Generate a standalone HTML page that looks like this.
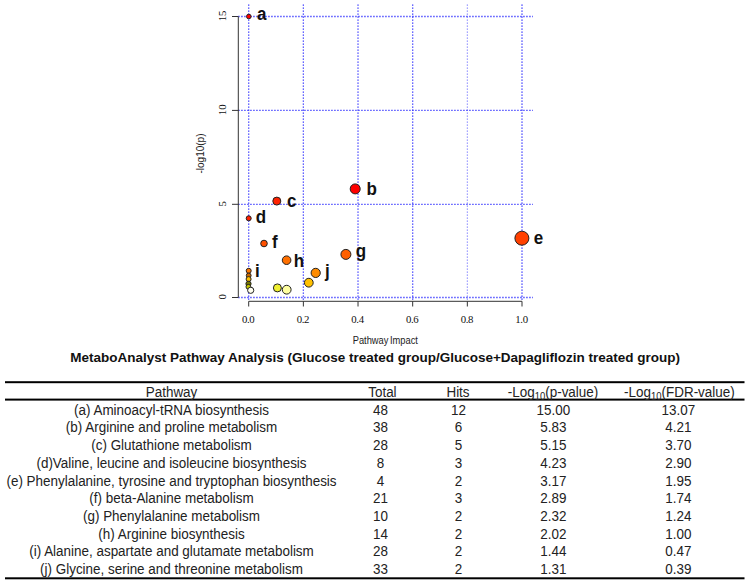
<!DOCTYPE html>
<html><head><meta charset="utf-8"><style>
html,body{margin:0;padding:0;background:#fff;}
body{width:749px;height:584px;overflow:hidden;position:relative;}
svg{position:absolute;left:0;top:0;}
.s{font-family:"Liberation Sans",sans-serif;}
.r{font-family:"Liberation Serif",serif;}
</style></head><body>
<svg width="749" height="584" viewBox="0 0 749 584">

<line x1="248.70" y1="4.5" x2="248.70" y2="301" stroke="#3434ff" stroke-width="1.3" stroke-dasharray="1.3 1.7"/>
<line x1="303.36" y1="4.5" x2="303.36" y2="301" stroke="#3434ff" stroke-width="1.3" stroke-dasharray="1.3 1.7"/>
<line x1="358.02" y1="4.5" x2="358.02" y2="301" stroke="#3434ff" stroke-width="1.3" stroke-dasharray="1.3 1.7"/>
<line x1="412.68" y1="4.5" x2="412.68" y2="301" stroke="#3434ff" stroke-width="1.3" stroke-dasharray="1.3 1.7"/>
<line x1="467.34" y1="4.5" x2="467.34" y2="301" stroke="#7a7aff" stroke-width="1.1" stroke-dasharray="1.3 1.7"/>
<line x1="522.00" y1="4.5" x2="522.00" y2="301" stroke="#5050ff" stroke-width="1.6" stroke-dasharray="1.3 1.7"/>
<line x1="238.3" y1="297.50" x2="533" y2="297.50" stroke="#3434ff" stroke-width="1.3" stroke-dasharray="1.3 1.7"/>
<line x1="238.3" y1="204.30" x2="533" y2="204.30" stroke="#3434ff" stroke-width="1.3" stroke-dasharray="1.3 1.7"/>
<line x1="238.3" y1="110.40" x2="533" y2="110.40" stroke="#3434ff" stroke-width="1.3" stroke-dasharray="1.3 1.7"/>
<line x1="238.3" y1="16.50" x2="533" y2="16.50" stroke="#3434ff" stroke-width="1.3" stroke-dasharray="1.3 1.7"/>
<line x1="238.3" y1="297.5" x2="238.3" y2="16.5" stroke="#333" stroke-width="1"/>
<line x1="232" y1="297.50" x2="238.3" y2="297.50" stroke="#333" stroke-width="1"/>
<text class="r" font-size="10.8" fill="#111" text-anchor="middle" transform="translate(225.8,296.90) rotate(-90)">0</text>
<line x1="232" y1="204.30" x2="238.3" y2="204.30" stroke="#333" stroke-width="1"/>
<text class="r" font-size="10.8" fill="#111" text-anchor="middle" transform="translate(225.8,203.70) rotate(-90)">5</text>
<line x1="232" y1="110.40" x2="238.3" y2="110.40" stroke="#333" stroke-width="1"/>
<text class="r" font-size="10.8" fill="#111" text-anchor="middle" transform="translate(225.8,109.80) rotate(-90)">10</text>
<line x1="232" y1="16.50" x2="238.3" y2="16.50" stroke="#333" stroke-width="1"/>
<text class="r" font-size="10.8" fill="#111" text-anchor="middle" transform="translate(225.8,15.90) rotate(-90)">15</text>
<line x1="248.70" y1="301.3" x2="522.00" y2="301.3" stroke="#333" stroke-width="1"/>
<line x1="248.70" y1="301.3" x2="248.70" y2="306.5" stroke="#333" stroke-width="1"/>
<text class="r" font-size="10.8" fill="#111" text-anchor="middle" letter-spacing="-0.4" x="248.20" y="322.5">0.0</text>
<line x1="303.36" y1="301.3" x2="303.36" y2="306.5" stroke="#333" stroke-width="1"/>
<text class="r" font-size="10.8" fill="#111" text-anchor="middle" letter-spacing="-0.4" x="302.86" y="322.5">0.2</text>
<line x1="358.02" y1="301.3" x2="358.02" y2="306.5" stroke="#333" stroke-width="1"/>
<text class="r" font-size="10.8" fill="#111" text-anchor="middle" letter-spacing="-0.4" x="357.52" y="322.5">0.4</text>
<line x1="412.68" y1="301.3" x2="412.68" y2="306.5" stroke="#333" stroke-width="1"/>
<text class="r" font-size="10.8" fill="#111" text-anchor="middle" letter-spacing="-0.4" x="412.18" y="322.5">0.6</text>
<line x1="467.34" y1="301.3" x2="467.34" y2="306.5" stroke="#333" stroke-width="1"/>
<text class="r" font-size="10.8" fill="#111" text-anchor="middle" letter-spacing="-0.4" x="466.84" y="322.5">0.8</text>
<line x1="522.00" y1="301.3" x2="522.00" y2="306.5" stroke="#333" stroke-width="1"/>
<text class="r" font-size="10.8" fill="#111" text-anchor="middle" letter-spacing="-0.4" x="521.50" y="322.5">1.0</text>
<text class="s" font-size="10" fill="#222" text-anchor="middle" transform="translate(204,153.5) rotate(-90)">-log10(p)</text>
<text class="s" font-size="10.9" fill="#222" text-anchor="middle" word-spacing="-1.2" transform="translate(385.3,344.4) scale(0.855,1)">Pathway Impact</text>
<circle cx="248.7" cy="270.8" r="2.5" fill="#ff7800" stroke="#222" stroke-width="1"/>
<circle cx="248.7" cy="275.5" r="2.4" fill="#c86800" stroke="#222" stroke-width="1"/>
<circle cx="248.6" cy="279.1" r="2.5" fill="#ffc000" stroke="#222" stroke-width="1"/>
<circle cx="248.5" cy="283.8" r="2.6" fill="#767600" stroke="#222" stroke-width="1"/>
<circle cx="248.4" cy="286.8" r="2.4" fill="#c8c800" stroke="#222" stroke-width="1"/>
<circle cx="250.7" cy="290.3" r="3.1" fill="#fffff0" stroke="#222" stroke-width="1"/>
<circle cx="286.7" cy="289.7" r="4.4" fill="#ffffa0" stroke="#222" stroke-width="1"/>
<circle cx="277.4" cy="287.9" r="4.0" fill="#f0f030" stroke="#222" stroke-width="1"/>
<circle cx="308.8" cy="282.7" r="4.4" fill="#ffc000" stroke="#222" stroke-width="1"/>
<circle cx="315.7" cy="272.9" r="4.6" fill="#ff8c00" stroke="#222" stroke-width="1"/>
<circle cx="286.6" cy="260.2" r="4.3" fill="#ff7000" stroke="#222" stroke-width="1"/>
<circle cx="345.9" cy="254.4" r="5.0" fill="#ff6000" stroke="#222" stroke-width="1"/>
<circle cx="264.0" cy="243.5" r="3.3" fill="#ff5000" stroke="#222" stroke-width="1"/>
<circle cx="521.9" cy="238.2" r="7.0" fill="#ff4000" stroke="#222" stroke-width="1"/>
<circle cx="248.7" cy="218.3" r="2.5" fill="#ff2000" stroke="#222" stroke-width="1"/>
<circle cx="276.8" cy="201.1" r="4.0" fill="#ff2200" stroke="#222" stroke-width="1"/>
<circle cx="355.2" cy="188.9" r="5.0" fill="#ff0000" stroke="#222" stroke-width="1"/>
<circle cx="248.8" cy="16.5" r="2.3" fill="#ff0000" stroke="#222" stroke-width="1"/>
<text class="s" font-size="17" font-weight="bold" fill="#111" transform="translate(257.0,20.0) scale(1,1.07)">a</text>
<text class="s" font-size="17" font-weight="bold" fill="#111" transform="translate(366.5,195.3) scale(1,1.07)">b</text>
<text class="s" font-size="17" font-weight="bold" fill="#111" transform="translate(287.1,207.0) scale(1,1.07)">c</text>
<text class="s" font-size="17" font-weight="bold" fill="#111" transform="translate(255.7,222.8) scale(1,1.07)">d</text>
<text class="s" font-size="17" font-weight="bold" fill="#111" transform="translate(533.7,244.1) scale(1,1.07)">e</text>
<text class="s" font-size="17" font-weight="bold" fill="#111" transform="translate(271.9,248.4) scale(1,1.07)">f</text>
<text class="s" font-size="17" font-weight="bold" fill="#111" transform="translate(355.8,256.7) scale(1,1.07)">g</text>
<text class="s" font-size="17" font-weight="bold" fill="#111" transform="translate(293.7,266.5) scale(1,1.07)">h</text>
<text class="s" font-size="17" font-weight="bold" fill="#111" transform="translate(255.0,277.4) scale(1,1.07)">i</text>
<text class="s" font-size="17" font-weight="bold" fill="#111" transform="translate(324.9,276.8) scale(1,1.07)">j</text>
<text class="s" font-size="13.5" font-weight="bold" fill="#111" text-anchor="middle" transform="translate(375.2,362.1)">MetaboAnalyst Pathway Analysis (Glucose treated group/Glucose+Dapagliflozin treated group)</text>
<rect x="5" y="381.2" width="739.5" height="2" fill="#000"/>
<rect x="5" y="398.6" width="739.5" height="2" fill="#000"/>
<rect x="5" y="577.3" width="739.5" height="2" fill="#000"/>
<text class="s" font-size="13.45" fill="#222" text-anchor="middle" transform="translate(171.5,396.6) scale(1,1.08)">Pathway</text>
<text class="s" font-size="13.45" fill="#222" text-anchor="middle" transform="translate(382.4,396.6) scale(1,1.08)">Total</text>
<text class="s" font-size="13.45" fill="#222" text-anchor="middle" transform="translate(458.0,396.6) scale(1,1.08)">Hits</text>
<text class="s" font-size="13.45" fill="#222" text-anchor="middle" transform="translate(553.0,396.6) scale(1,1.08)">-Log<tspan font-size="9.5" dy="3">10</tspan><tspan dy="-3">(p-value)</tspan></text>
<text class="s" font-size="13.45" fill="#222" text-anchor="middle" transform="translate(679.4,396.6) scale(1,1.08)">-Log<tspan font-size="9.5" dy="3">10</tspan><tspan dy="-3">(FDR-value)</tspan></text>
<text class="s" font-size="13.45" fill="#222" text-anchor="middle" transform="translate(171.5,414.60) scale(1,1.08)">(a) Aminoacyl-tRNA biosynthesis</text>
<text class="s" font-size="13.45" fill="#222" text-anchor="middle" transform="translate(380.4,414.60) scale(1,1.08)">48</text>
<text class="s" font-size="13.45" fill="#222" text-anchor="middle" transform="translate(458.5,414.60) scale(1,1.08)">12</text>
<text class="s" font-size="13.45" fill="#222" text-anchor="middle" transform="translate(553.4,414.60) scale(1,1.08)">15.00</text>
<text class="s" font-size="13.45" fill="#222" text-anchor="middle" transform="translate(678.4,414.60) scale(1,1.08)">13.07</text>
<text class="s" font-size="13.45" fill="#222" text-anchor="middle" transform="translate(171.5,432.33) scale(1,1.08)">(b) Arginine and proline metabolism</text>
<text class="s" font-size="13.45" fill="#222" text-anchor="middle" transform="translate(380.4,432.33) scale(1,1.08)">38</text>
<text class="s" font-size="13.45" fill="#222" text-anchor="middle" transform="translate(458.5,432.33) scale(1,1.08)">6</text>
<text class="s" font-size="13.45" fill="#222" text-anchor="middle" transform="translate(553.4,432.33) scale(1,1.08)">5.83</text>
<text class="s" font-size="13.45" fill="#222" text-anchor="middle" transform="translate(678.4,432.33) scale(1,1.08)">4.21</text>
<text class="s" font-size="13.45" fill="#222" text-anchor="middle" transform="translate(171.5,450.06) scale(1,1.08)">(c) Glutathione metabolism</text>
<text class="s" font-size="13.45" fill="#222" text-anchor="middle" transform="translate(380.4,450.06) scale(1,1.08)">28</text>
<text class="s" font-size="13.45" fill="#222" text-anchor="middle" transform="translate(458.5,450.06) scale(1,1.08)">5</text>
<text class="s" font-size="13.45" fill="#222" text-anchor="middle" transform="translate(553.4,450.06) scale(1,1.08)">5.15</text>
<text class="s" font-size="13.45" fill="#222" text-anchor="middle" transform="translate(678.4,450.06) scale(1,1.08)">3.70</text>
<text class="s" font-size="13.45" fill="#222" text-anchor="middle" transform="translate(171.5,467.79) scale(1,1.08)">(d)Valine, leucine and isoleucine biosynthesis</text>
<text class="s" font-size="13.45" fill="#222" text-anchor="middle" transform="translate(380.4,467.79) scale(1,1.08)">8</text>
<text class="s" font-size="13.45" fill="#222" text-anchor="middle" transform="translate(458.5,467.79) scale(1,1.08)">3</text>
<text class="s" font-size="13.45" fill="#222" text-anchor="middle" transform="translate(553.4,467.79) scale(1,1.08)">4.23</text>
<text class="s" font-size="13.45" fill="#222" text-anchor="middle" transform="translate(678.4,467.79) scale(1,1.08)">2.90</text>
<text class="s" font-size="13.45" fill="#222" text-anchor="middle" transform="translate(171.5,485.52) scale(1,1.08)">(e) Phenylalanine, tyrosine and tryptophan biosynthesis</text>
<text class="s" font-size="13.45" fill="#222" text-anchor="middle" transform="translate(380.4,485.52) scale(1,1.08)">4</text>
<text class="s" font-size="13.45" fill="#222" text-anchor="middle" transform="translate(458.5,485.52) scale(1,1.08)">2</text>
<text class="s" font-size="13.45" fill="#222" text-anchor="middle" transform="translate(553.4,485.52) scale(1,1.08)">3.17</text>
<text class="s" font-size="13.45" fill="#222" text-anchor="middle" transform="translate(678.4,485.52) scale(1,1.08)">1.95</text>
<text class="s" font-size="13.45" fill="#222" text-anchor="middle" transform="translate(171.5,503.25) scale(1,1.08)">(f) beta-Alanine metabolism</text>
<text class="s" font-size="13.45" fill="#222" text-anchor="middle" transform="translate(380.4,503.25) scale(1,1.08)">21</text>
<text class="s" font-size="13.45" fill="#222" text-anchor="middle" transform="translate(458.5,503.25) scale(1,1.08)">3</text>
<text class="s" font-size="13.45" fill="#222" text-anchor="middle" transform="translate(553.4,503.25) scale(1,1.08)">2.89</text>
<text class="s" font-size="13.45" fill="#222" text-anchor="middle" transform="translate(678.4,503.25) scale(1,1.08)">1.74</text>
<text class="s" font-size="13.45" fill="#222" text-anchor="middle" transform="translate(171.5,520.98) scale(1,1.08)">(g) Phenylalanine metabolism</text>
<text class="s" font-size="13.45" fill="#222" text-anchor="middle" transform="translate(380.4,520.98) scale(1,1.08)">10</text>
<text class="s" font-size="13.45" fill="#222" text-anchor="middle" transform="translate(458.5,520.98) scale(1,1.08)">2</text>
<text class="s" font-size="13.45" fill="#222" text-anchor="middle" transform="translate(553.4,520.98) scale(1,1.08)">2.32</text>
<text class="s" font-size="13.45" fill="#222" text-anchor="middle" transform="translate(678.4,520.98) scale(1,1.08)">1.24</text>
<text class="s" font-size="13.45" fill="#222" text-anchor="middle" transform="translate(171.5,538.71) scale(1,1.08)">(h) Arginine biosynthesis</text>
<text class="s" font-size="13.45" fill="#222" text-anchor="middle" transform="translate(380.4,538.71) scale(1,1.08)">14</text>
<text class="s" font-size="13.45" fill="#222" text-anchor="middle" transform="translate(458.5,538.71) scale(1,1.08)">2</text>
<text class="s" font-size="13.45" fill="#222" text-anchor="middle" transform="translate(553.4,538.71) scale(1,1.08)">2.02</text>
<text class="s" font-size="13.45" fill="#222" text-anchor="middle" transform="translate(678.4,538.71) scale(1,1.08)">1.00</text>
<text class="s" font-size="13.45" fill="#222" text-anchor="middle" transform="translate(171.5,556.44) scale(1,1.08)">(i) Alanine, aspartate and glutamate metabolism</text>
<text class="s" font-size="13.45" fill="#222" text-anchor="middle" transform="translate(380.4,556.44) scale(1,1.08)">28</text>
<text class="s" font-size="13.45" fill="#222" text-anchor="middle" transform="translate(458.5,556.44) scale(1,1.08)">2</text>
<text class="s" font-size="13.45" fill="#222" text-anchor="middle" transform="translate(553.4,556.44) scale(1,1.08)">1.44</text>
<text class="s" font-size="13.45" fill="#222" text-anchor="middle" transform="translate(678.4,556.44) scale(1,1.08)">0.47</text>
<text class="s" font-size="13.45" fill="#222" text-anchor="middle" transform="translate(171.5,574.17) scale(1,1.08)">(j) Glycine, serine and threonine metabolism</text>
<text class="s" font-size="13.45" fill="#222" text-anchor="middle" transform="translate(380.4,574.17) scale(1,1.08)">33</text>
<text class="s" font-size="13.45" fill="#222" text-anchor="middle" transform="translate(458.5,574.17) scale(1,1.08)">2</text>
<text class="s" font-size="13.45" fill="#222" text-anchor="middle" transform="translate(553.4,574.17) scale(1,1.08)">1.31</text>
<text class="s" font-size="13.45" fill="#222" text-anchor="middle" transform="translate(678.4,574.17) scale(1,1.08)">0.39</text>
</svg>
</body></html>
